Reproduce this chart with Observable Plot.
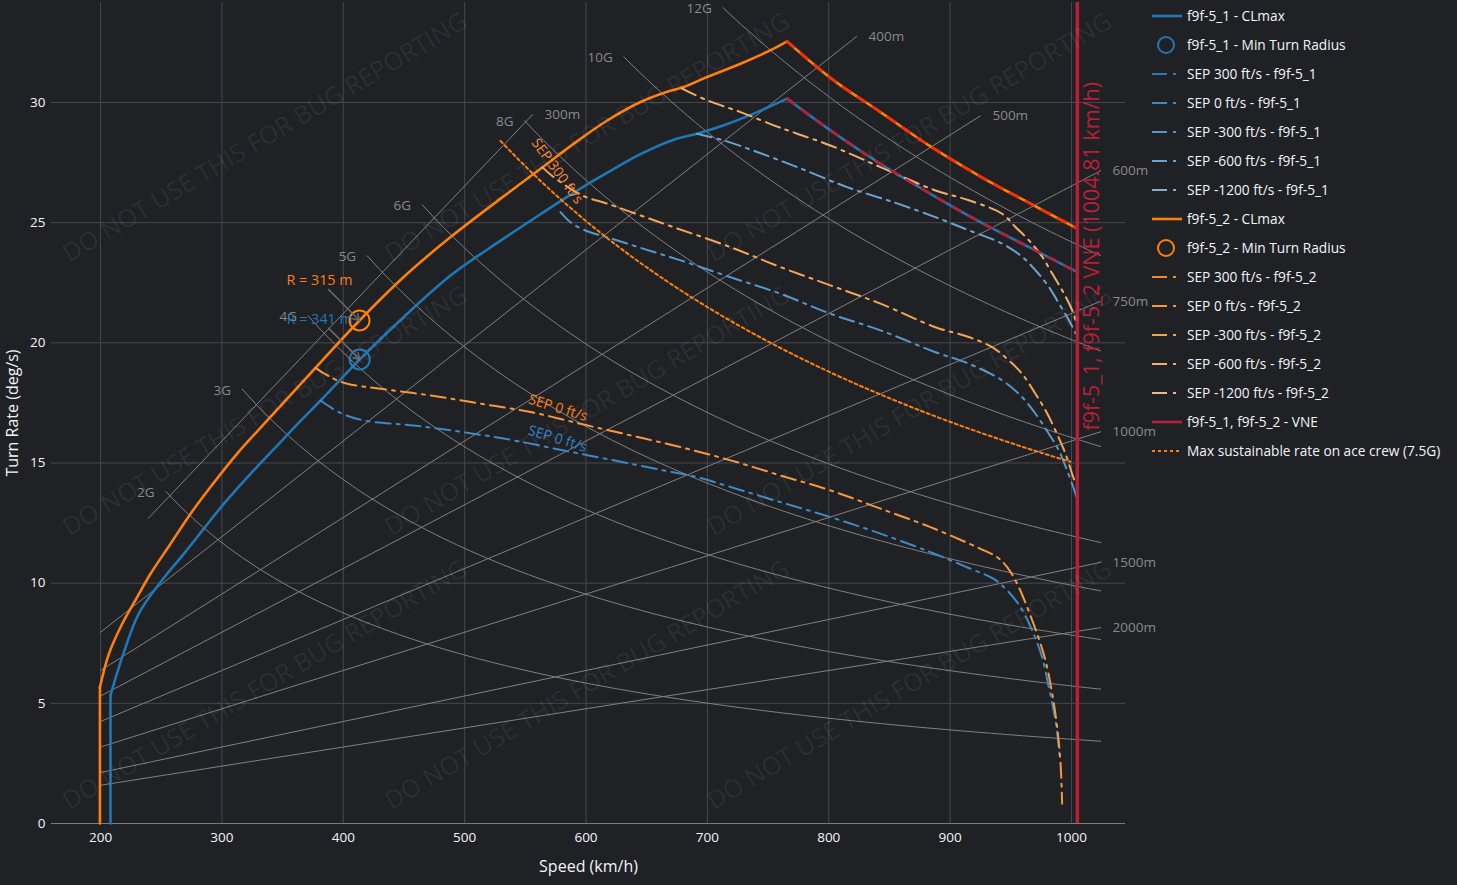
<!DOCTYPE html>
<html><head><meta charset="utf-8">
<script src="https://cdn.jsdelivr.net/npm/d3@7"></script>
<script src="https://cdn.jsdelivr.net/npm/@observablehq/plot@0.6"></script>
<style>
html,body{margin:0;padding:0;background:#1f2125;}
#wrap{position:relative;width:1457px;height:885px;overflow:hidden;font-family:"Open Sans",sans-serif;}
#overlay{position:absolute;left:0;top:0;pointer-events:none;}
</style></head><body><div id="wrap"></div>
<script>
// ---------- data ----------
const xTicks = [200,300,400,500,600,700,800,900,1000];
const yTicks = [0,5,10,15,20,25,30];

// f9f-5_1 CLmax  [speed km/h, turn rate deg/s]
const clmax1 = [[208.2,0],[208.2,5.33],[217.9,6.92],[231.5,8.73],[249.4,10.04],[268.6,11.22],[285,12.26],[301.5,13.3],[323.6,14.55],[341.4,15.5],[364.8,16.75],[381.3,17.6],[413.6,19.31],[447.2,20.95],[488.4,22.8],[529.6,24.25],[562.5,25.35],[590,26.25],[617.5,27.08],[644.9,27.85],[672.3,28.45],[691.5,28.70],[713.5,29.05],[741,29.60],[765.7,30.16],[801.4,28.84],[842.6,27.45],[883.8,26.2],[925,25.02],[966.2,23.95],[1004.8,22.94]];
// f9f-5_2 CLmax
const clmax2 = [[199.5,0],[199.5,5.67],[206.9,7.06],[217.9,8.31],[230.2,9.42],[241.2,10.39],[257.7,11.64],[274.2,12.89],[290.6,14.0],[312.6,15.39],[337.4,16.77],[377.1,18.96],[413.4,20.93],[450,22.75],[488.4,24.4],[529.6,26.0],[562.5,27.24],[590,28.29],[617.5,29.25],[644.9,30.02],[666.9,30.45],[679.2,30.62],[699.8,31.06],[727.3,31.61],[754.7,32.24],[765.7,32.54],[804.1,30.92],[842.6,29.6],[883.8,28.17],[925,26.92],[966.2,25.79],[1004.8,24.75]];

// SEP curves f9f-5_1
const sep0_1 = [[381.3,17.6],[397.7,17.08],[416.9,16.77],[458.1,16.56],[499.3,16.28],[540.5,15.94],[581.7,15.52],[622.9,15.11],[664.1,14.69],[691.6,14.41],[719.1,14.0],[760.3,13.37],[801.4,12.75],[842.6,12.06],[883.8,11.29],[916.8,10.6],[935.9,10.18],[947,9.7],[958,9.0],[967.6,8.03],[975.8,6.92],[981.3,5.67],[986.8,4.29],[989.5,3.18],[990.5,2.6]];
const sepM300_1 = [[579,25.44],[587.2,25.02],[598.2,24.7],[620,24.35],[645,23.95],[677.9,23.43],[719.1,22.73],[760.3,22.04],[801.4,21.21],[842.6,20.52],[887.9,19.61],[915.4,19.13],[942.8,18.44],[959.3,17.74],[970.3,17.05],[981.3,16.22],[989.6,15.52],[996.4,14.69],[1001.9,13.93],[1004,13.6]];
const sepM600_1 = [[691.5,28.7],[713.5,28.42],[741,27.94],[774,27.31],[815.1,26.48],[856.3,25.8],[887.9,25.23],[915.4,24.68],[942.8,24.13],[959.3,23.58],[970.3,23.02],[981.3,22.33],[989.6,21.64],[997.8,20.95],[1003.3,20.4]];
// SEP curves f9f-5_2
const sep0_2 = [[377.1,18.96],[389.5,18.57],[403.3,18.3],[430.7,18.09],[471.9,17.81],[513.1,17.47],[554.3,17.12],[595.5,16.63],[636.7,16.15],[677.9,15.66],[719.1,15.11],[760.3,14.48],[801.4,13.86],[842.6,13.1],[883.8,12.33],[925,11.43],[938.8,11.08],[947,10.67],[955.3,9.97],[963.5,9.0],[971.7,7.89],[978.6,6.78],[984.1,5.4],[988.2,4.01],[991,2.48],[992.3,0.82]];
const sepM300_2 = [[563.9,27.31],[573.5,26.89],[596.8,26.13],[617.5,25.79],[644.9,25.3],[672.3,24.81],[719.1,23.98],[760.3,23.15],[801.4,22.39],[842.6,21.63],[887.9,20.65],[915.4,20.24],[934.6,19.82],[948.3,19.27],[959.3,18.71],[970.3,17.88],[978.6,17.19],[986.8,16.35],[995.1,15.38],[1000.5,14.55],[1003.3,14.14]];
const sepM600_2 = [[679.2,30.58],[699.8,30.09],[727.3,29.6],[754.7,29.05],[774,28.7],[801.4,28.21],[842.6,27.31],[887.9,26.34],[915.4,25.93],[942.8,25.37],[953.8,24.82],[964.8,24.27],[975.9,23.58],[984,22.89],[992.3,22.19],[1000.5,21.36],[1003.3,20.95]];

// minimum turn radius points
const minTurnSpeed = [413.6, 413.4];
const minTurnRate = [19.31, 20.93];
const minTurnR = [341, 315];

const vne = 1004.81;

// guide lines
const gLoads = [2,3,4,5,6,8,10,12];
const gStart = [253.6,316.7,371,419.7,465,549.3,631.2,712.7];
const radii = [300,400,500,600,750,1000,1500,2000];
const rStart = [239.5,200,200,200,200,200,200,200];
const rEnd = [555.9,822.9,925,1024,1024,1024,1024,1024];
const guideEnd = 1024;
const aceLoad = 7.5, aceStart = 529.6, aceEnd = 999;

// on-chart labels
const sepLabelText = ["SEP 300 ft/s","SEP 0 ft/s","SEP 0 ft/s"];
const sepLabelX = [576.3,576.9,576.5];
const sepLabelY = [27.14,17.29,16.01];
const sepLabelRot = [54,17,17];
const sepLabelColor = ["#fd8a35","#ff7f0e","#2f86c8"];

const legendNames = ["f9f-5_1 - CLmax","f9f-5_1 - Min Turn Radius","SEP 300 ft/s - f9f-5_1","SEP 0 ft/s - f9f-5_1","SEP -300 ft/s - f9f-5_1","SEP -600 ft/s - f9f-5_1","SEP -1200 ft/s - f9f-5_1","f9f-5_2 - CLmax","f9f-5_2 - Min Turn Radius","SEP 300 ft/s - f9f-5_2","SEP 0 ft/s - f9f-5_2","SEP -300 ft/s - f9f-5_2","SEP -600 ft/s - f9f-5_2","SEP -1200 ft/s - f9f-5_2","f9f-5_1, f9f-5_2 - VNE","Max sustainable rate on ace crew (7.5G)"];
const legendKinds = ["line","circle","sep","sep","sep","sep","sep","line","circle","sep","sep","sep","sep","sep","line","dot"];

// ---------- styling ----------
const BLUE = "#1f77b4", ORANGE = "#ff7f0e", VNEC = "#b81f38";
const blueShades = ["#2a7ab6","#3d89c4","#5697c9","#6aa3cf","#86afcf"];
const orangeShades = ["#f88a25","#f6983d","#f4a454","#f2ae6b","#ecb98a"];
const legendColors = [BLUE,BLUE,...blueShades,ORANGE,ORANGE,...orangeShades,VNEC,ORANGE];

const W = 1457, H = 885, mL = 51, mR = 332, mT = 2, mB = 62;
const xDomain = [159.6, 1044.5], yDomain = [0, 34.16];
const xs = d3.scaleLinear(xDomain, [mL, W - mR]);
const ys = d3.scaleLinear(yDomain, [H - mB, mT]);

const G = 9.81;
const rateAtLoad = (n, v) => G * Math.sqrt(n*n - 1) / (v/3.6) * 180 / Math.PI;
const rateAtRadius = (r, v) => (v/3.6) / r * 180 / Math.PI;

const toObj = (arr) => arr.map(([s, r]) => ({s, r}));
// split a CLmax curve into vertical / rising / falling pieces so corners stay sharp
const segmented = (arr) => {
  const p = d3.maxIndex(arr, d => d[1]); const out = [];
  arr.forEach(([s, r], i) => {
    if (i <= 1) out.push({s, r, g: 0});
    if (i >= 1 && i <= p) out.push({s, r, g: 1});
    if (i >= p) out.push({s, r, g: 2});
  });
  return out;
};
const gPts = gLoads.flatMap((n, i) => d3.range(0, 61).map(k => {
  const v = gStart[i] + (guideEnd - gStart[i]) * k / 60;
  return {n, s: v, r: rateAtLoad(n, v)};
}));
const gLab = gLoads.map((n, i) => ({s: gStart[i], r: rateAtLoad(n, gStart[i]), t: n + "G"}));
const rPts = radii.flatMap((R, i) => [rStart[i], rEnd[i]].map(v => ({R, s: v, r: rateAtRadius(R, v)})));
const rLab = radii.map((R, i) => ({s: rEnd[i], r: rateAtRadius(R, rEnd[i]), t: R + "m"}));
const acePts = d3.range(0, 61).map(k => { const v = aceStart + (aceEnd - aceStart) * k / 60; return {s: v, r: rateAtLoad(aceLoad, v)}; });

const peakSlice = (arr) => { const i = d3.maxIndex(arr, d => d[1]); return toObj(arr.slice(i)); };
const minTurn = minTurnSpeed.map((s, i) => ({s, r: minTurnRate[i], R: minTurnR[i], c: i === 0 ? BLUE : ORANGE}));
const sepLabels = sepLabelText.map((t, i) => ({t, s: sepLabelX[i], r: sepLabelY[i], rot: sepLabelRot[i], c: sepLabelColor[i]}));

const SEPDASH = "15,6,3,6";
const CURVE = "catmull-rom";
const sepLine = (arr, color) => Plot.line(toObj(arr), {x: "s", y: "r", stroke: color, strokeWidth: 2, strokeDasharray: SEPDASH, curve: CURVE});

const chart = Plot.plot({
  width: W, height: H,
  marginLeft: mL, marginRight: mR, marginTop: mT, marginBottom: mB,
  x: {domain: xDomain},
  y: {domain: yDomain},
  style: {background: "#1f2125", color: "#f2f5fa", fontFamily: "'Open Sans', sans-serif", fontSize: "13.5px"},
  marks: [
    Plot.gridX(xTicks, {stroke: "#46484d", strokeOpacity: 1}),
    Plot.gridY(yTicks, {stroke: "#46484d", strokeOpacity: 1}),
    Plot.ruleY([0], {stroke: "#7c7c7c", strokeWidth: 1.2}),
    Plot.axisX(xTicks, {tickSize: 0, tickPadding: 9, tickFormat: d => String(d), label: null, fontSize: 13.5, fill: "#f2f5fa"}),
    Plot.axisY(yTicks, {tickSize: 0, tickPadding: 6, tickFormat: d => String(d), label: null, fontSize: 13.5, fill: "#f2f5fa"}),
    // guides
    Plot.line(gPts, {x: "s", y: "r", z: "n", stroke: "#808080", strokeWidth: 1}),
    Plot.line(rPts, {x: "s", y: "r", z: "R", stroke: "#808080", strokeWidth: 1}),
    Plot.text(gLab, {x: "s", y: "r", text: "t", textAnchor: "end", dx: -11, dy: 1, fill: "#8a8a8a", fontSize: 13.5}),
    Plot.text(rLab, {x: "s", y: "r", text: "t", textAnchor: "start", dx: 12, fill: "#8a8a8a", fontSize: 13.5}),
    // f9f-5_1
    Plot.line(segmented(clmax1), {x: "s", y: "r", z: "g", stroke: BLUE, strokeWidth: 2.6, curve: CURVE}),
    sepLine(sep0_1, blueShades[1]),
    sepLine(sepM300_1, blueShades[2]),
    sepLine(sepM600_1, blueShades[3]),
    // f9f-5_2
    Plot.line(segmented(clmax2), {x: "s", y: "r", z: "g", stroke: ORANGE, strokeWidth: 2.6, curve: CURVE}),
    sepLine(sep0_2, orangeShades[1]),
    sepLine(sepM300_2, orangeShades[2]),
    sepLine(sepM600_2, orangeShades[3]),
    // structural limit overlay
    Plot.line(peakSlice(clmax1), {x: "s", y: "r", stroke: VNEC, strokeWidth: 2.6, strokeDasharray: "9,9", curve: CURVE}),
    Plot.line(peakSlice(clmax2), {x: "s", y: "r", stroke: "#ff2a00", strokeWidth: 2.6, strokeDasharray: "9,9", curve: CURVE}),
    // VNE
    Plot.ruleX([vne], {stroke: VNEC, strokeWidth: 3.5}),
    Plot.text([vne], {x: d => d, y: 23.6, text: () => `f9f-5_1, f9f-5_2 VNE (${vne} km/h)`, rotate: -90, dx: 15, fill: VNEC, fontSize: 21.5}),
    // ace crew
    Plot.line(acePts, {x: "s", y: "r", stroke: ORANGE, strokeWidth: 2, strokeDasharray: "3,3"}),
    // min turn radius
    Plot.dot(minTurn, {x: "s", y: "r", r: 10, stroke: "c", strokeWidth: 2, fill: "none"}),
    Plot.arrow(minTurn, {x1: d => xs.invert(xs(d.s) - 31), y1: d => ys.invert(ys(d.r) - 31), x2: "s", y2: "r", stroke: "#6a6a6a", strokeWidth: 1.5, headLength: 7}),
    Plot.text(minTurn, {x: "s", y: "r", text: d => `R = ${d.R} m`, dx: -40, dy: -40, fill: "c", fontSize: 14.3}),
    // SEP labels
    Plot.text(sepLabels, {x: "s", y: "r", text: "t", rotate: d => d.rot, fill: "c", fontSize: 14}),
    // axis titles
    Plot.text([0], {frameAnchor: "bottom", dy: 43, lineAnchor: "middle", textAnchor: "middle", text: () => "Speed (km/h)", fontSize: 16, fill: "#f2f5fa"}),
    Plot.text([0], {frameAnchor: "left", dx: -39, rotate: -90, lineAnchor: "middle", textAnchor: "middle", text: () => "Turn Rate (deg/s)", fontSize: 16, fill: "#f2f5fa"})
  ]
});
document.getElementById("wrap").appendChild(chart);

// ---------- overlay: watermark + legend ----------
const ov = d3.select("#wrap").append("svg").attr("id", "overlay").attr("width", W).attr("height", H)
  .style("font-family", "'Open Sans', sans-serif");
const wmText = "DO NOT USE THIS FOR BUG REPORTING";
const wmFx = [0.2, 0.5, 0.8], wmFy = [1/6, 0.5, 5/6];
wmFy.forEach(fy => wmFx.forEach(fx => {
  const x = mL + fx * (W - mL - mR), y = mT + fy * (H - mT - mB);
  ov.append("text").attr("x", x).attr("y", y).attr("transform", `rotate(-30.6 ${x} ${y})`)
    .attr("text-anchor", "middle").attr("dominant-baseline", "middle")
    .attr("font-size", 25).attr("fill", "#ffffff").attr("fill-opacity", 0.07).text(wmText);
}));

const lg = ov.append("g");
legendNames.forEach((name, i) => {
  const y = 16 + 29 * i, c = legendColors[i], k = legendKinds[i];
  if (k === "circle") {
    lg.append("circle").attr("cx", 1166).attr("cy", y).attr("r", 8).attr("fill", "none").attr("stroke", c).attr("stroke-width", 2);
  } else {
    const ln = lg.append("line").attr("x1", 1152).attr("x2", 1182).attr("y1", y).attr("y2", y).attr("stroke", c);
    if (k === "line") ln.attr("stroke-width", 2.6);
    if (k === "sep") ln.attr("stroke-width", 2).attr("stroke-dasharray", SEPDASH);
    if (k === "dot") ln.attr("stroke-width", 2).attr("stroke-dasharray", "3,3");
  }
  lg.append("text").attr("x", 1187).attr("y", y + 1).attr("dominant-baseline", "middle")
    .attr("font-size", 13.7).attr("fill", "#f2f5fa").text(name);
});
</script>
</body></html>
